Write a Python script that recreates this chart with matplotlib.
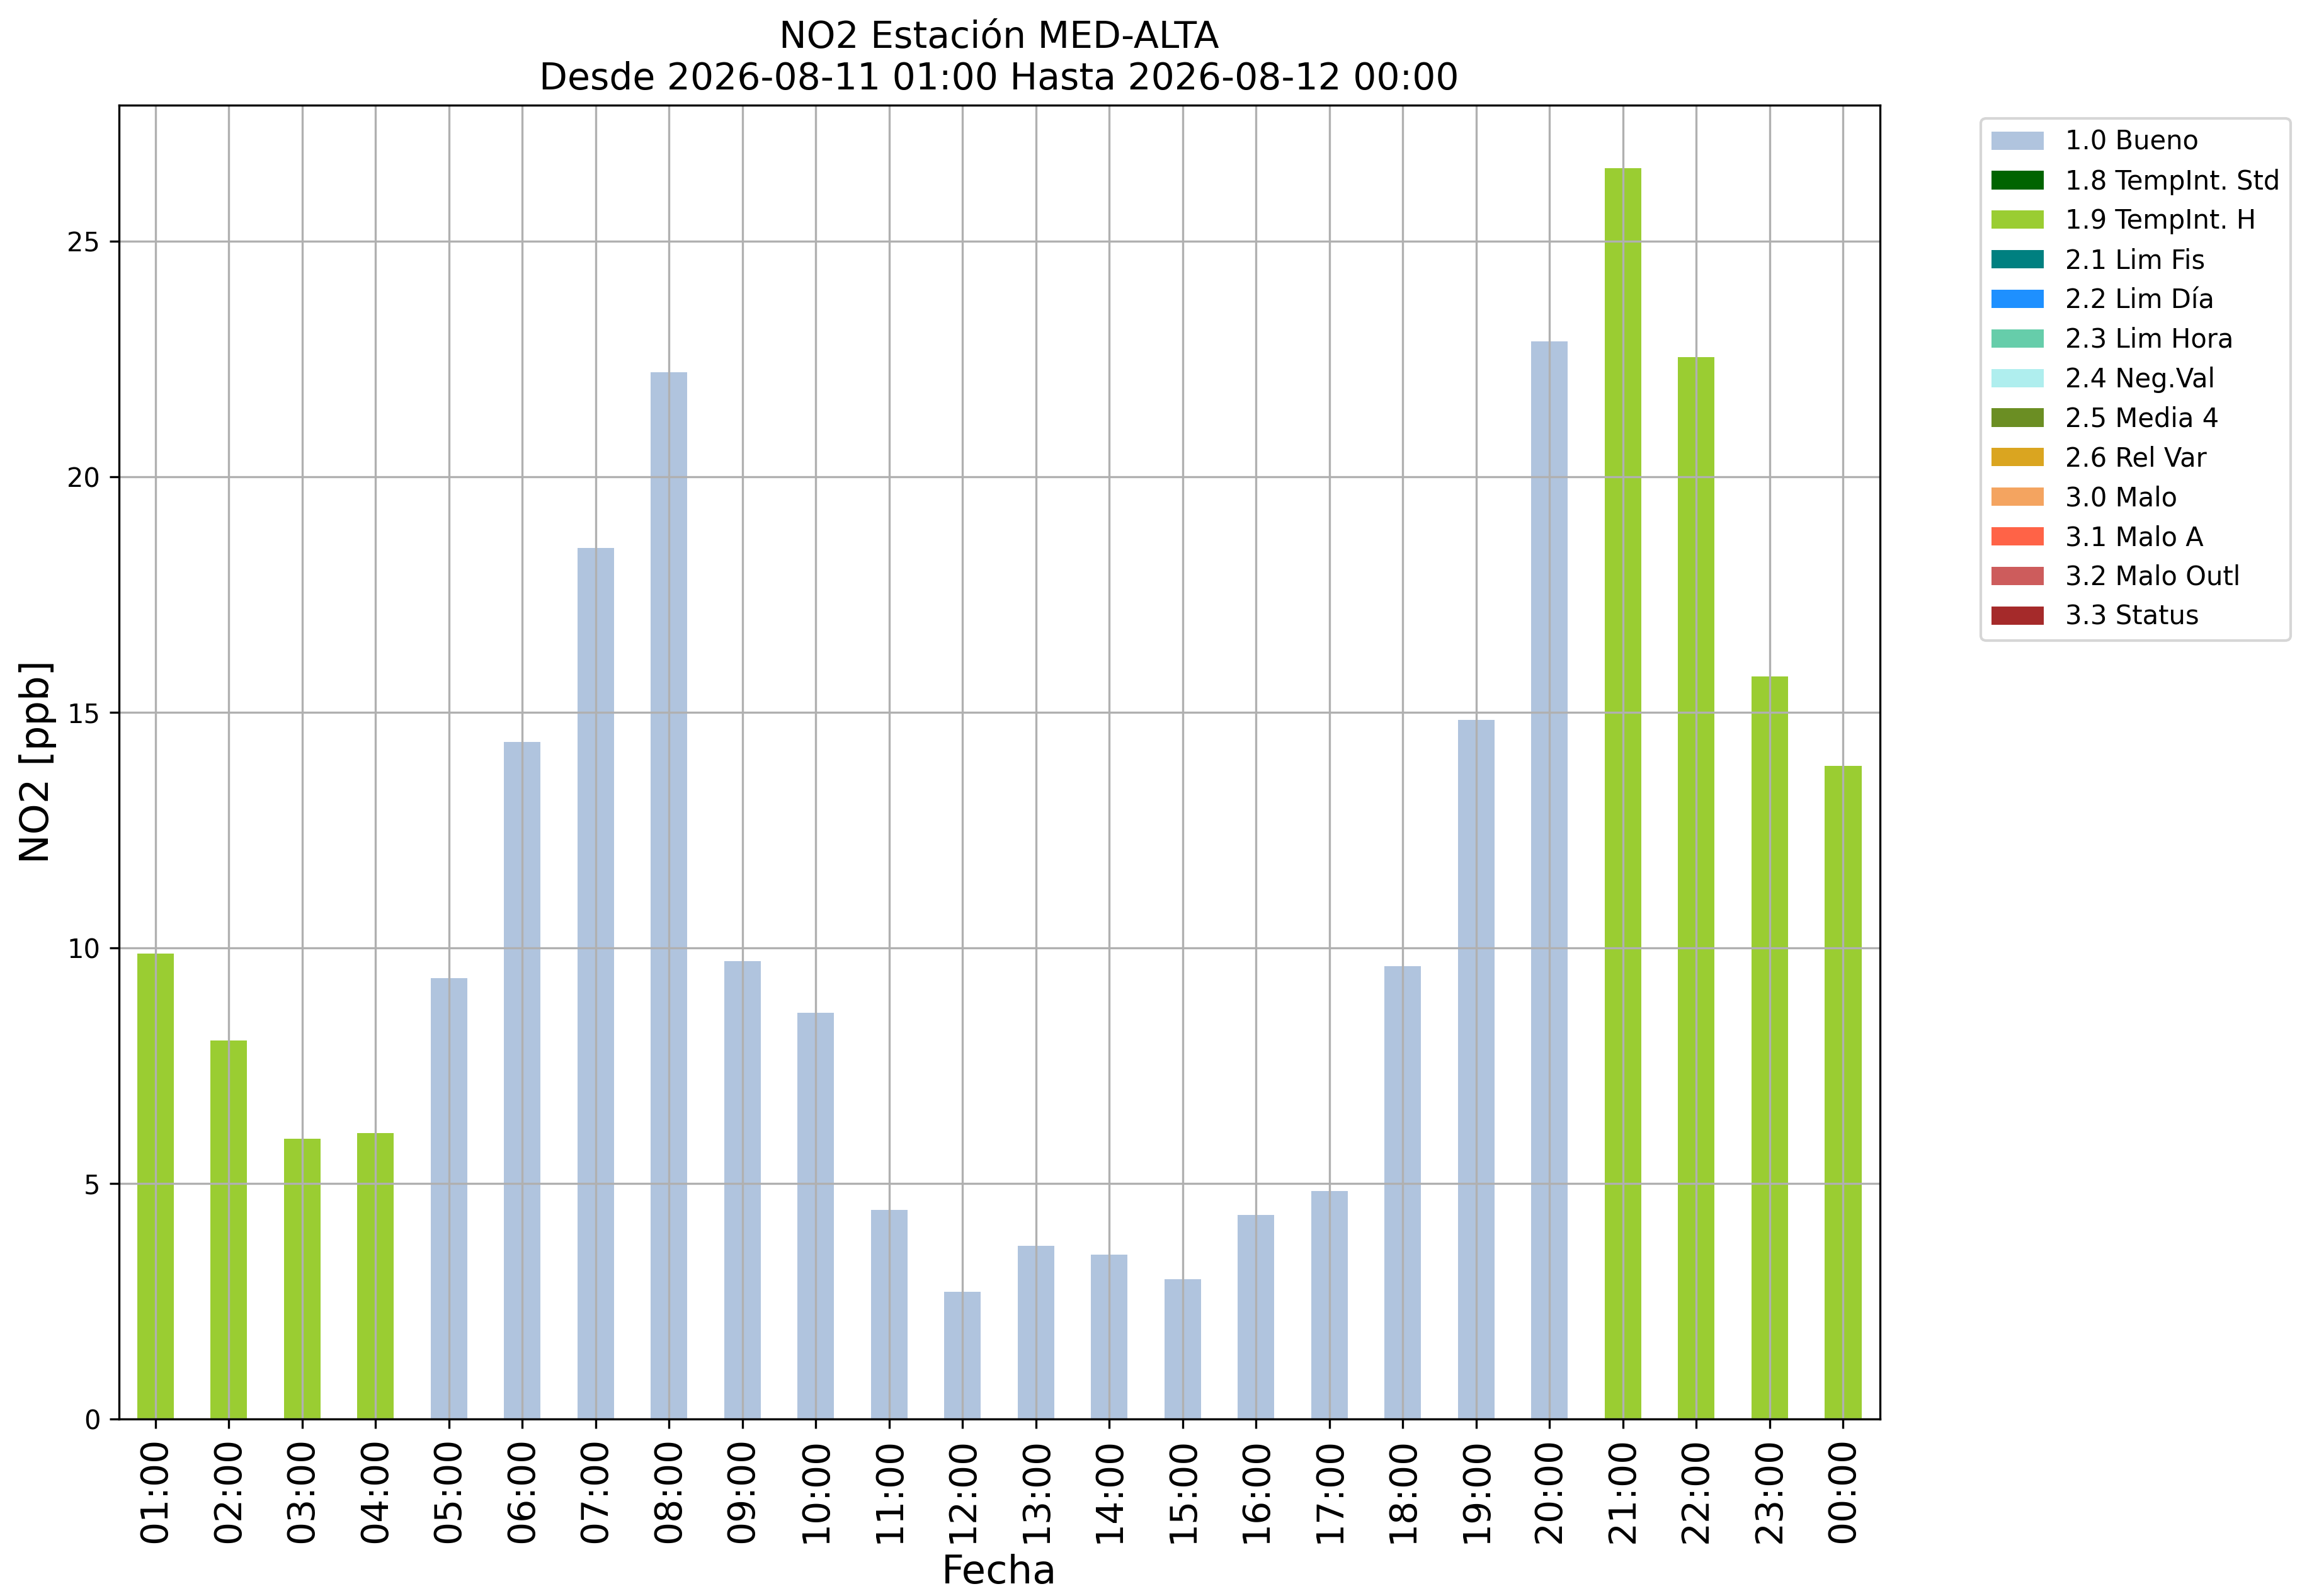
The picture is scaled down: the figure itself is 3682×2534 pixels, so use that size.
import matplotlib
matplotlib.use("Agg")
import matplotlib.pyplot as plt
import numpy as np

hours = ["01:00", "02:00", "03:00", "04:00", "05:00", "06:00", "07:00", "08:00",
         "09:00", "10:00", "11:00", "12:00", "13:00", "14:00", "15:00", "16:00",
         "17:00", "18:00", "19:00", "20:00", "21:00", "22:00", "23:00", "00:00"]
values = [9.88, 8.03, 5.94, 6.07, 9.35, 14.37, 18.49, 22.21,
          9.72, 8.62, 4.43, 2.70, 3.67, 3.49, 2.97, 4.33,
          4.83, 9.61, 14.84, 22.87, 26.55, 22.53, 15.76, 13.86]
flags = ["1.9 TempInt. H"] * 4 + ["1.0 Bueno"] * 16 + ["1.9 TempInt. H"] * 4

categories = ["1.0 Bueno", "1.8 TempInt. Std", "1.9 TempInt. H", "2.1 Lim Fis",
              "2.2 Lim Día", "2.3 Lim Hora", "2.4 Neg.Val", "2.5 Media 4",
              "2.6 Rel Var", "3.0 Malo", "3.1 Malo A", "3.2 Malo Outl", "3.3 Status"]
colors = ["lightsteelblue", "darkgreen", "yellowgreen", "teal",
          "dodgerblue", "mediumaquamarine", "paleturquoise", "olivedrab",
          "goldenrod", "sandybrown", "tomato", "indianred", "brown"]

fig = plt.figure(figsize=(3682 / 300, 2534 / 300), dpi=300)
ax = fig.add_axes([0.0512, 0.111, 0.7594, 0.823])

x = np.arange(len(hours))
bottom = np.zeros(len(hours))
for cat, col in zip(categories, colors):
    v = np.array([val if f == cat else 0.0 for val, f in zip(values, flags)])
    ax.bar(x, v, width=0.5, bottom=bottom, color=col, label=cat)
    bottom += v

ax.set_xlim(-0.5, len(hours) - 0.5)
ax.set_ylim(0, max(values) * 1.05)
ax.set_xticks(x)
ax.set_xticklabels(hours, rotation=90, fontsize=14)
ax.tick_params(axis="y", labelsize=10)
ax.grid(True)
ax.set_xlabel("Fecha", fontsize=15)
ax.set_ylabel("NO2 [ppb]", fontsize=15)
ax.set_title("NO2 Estación MED-ALTA\nDesde 2026-08-11 01:00 Hasta 2026-08-12 00:00", fontsize=14)
ax.legend(bbox_to_anchor=(1.05, 1.0), loc="upper left", fontsize=10)

fig.savefig("out.png", dpi=300)
